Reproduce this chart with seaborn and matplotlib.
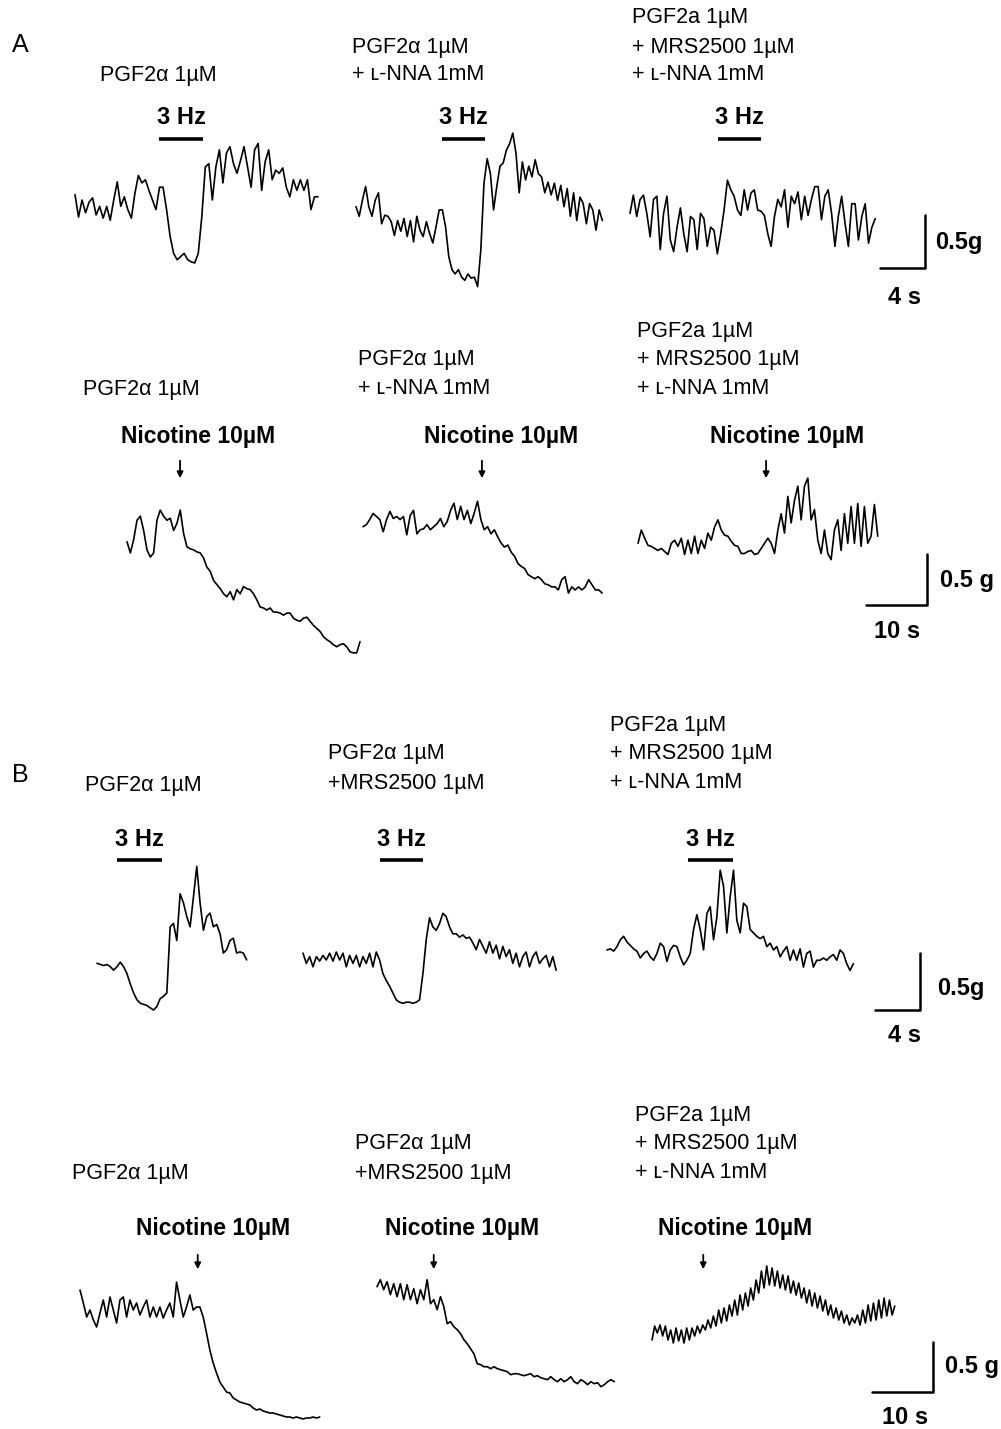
import numpy as np
import matplotlib
matplotlib.use("Agg")
import matplotlib.pyplot as plt
import seaborn as sns

# tension traces in g (relative to each trace's start level), evenly sampled in time
a1_tension = [0.05, -0.16, 0, -0.12, -0.02, 0.02, -0.14, -0.06, -0.17, -0.06, -0.19, 0, 0.17, -0.06, 0.03,
              -0.09, -0.17, 0.06, 0.23, 0.16, 0.19, 0.09, 0, -0.09, 0.12, 0.12, -0.09, -0.34, -0.5, -0.56,
              -0.53, -0.5, -0.56, -0.58, -0.59, -0.5, -0.16, 0.31, 0.34, 0, 0.31, 0.47, 0.16, 0.44, 0.5,
              0.34, 0.25, 0.37, 0.5, 0.31, 0.12, 0.47, 0.53, 0.09, 0.36, 0.47, 0.19, 0.28, 0.25, 0.3,
              0.12, 0.03, 0.19, 0.09, 0.19, 0.09, 0.19, -0.09, 0.03, 0.03]
a2_tension = [0, -0.09, 0.06, 0.19, 0, -0.09, 0.06, 0.13, -0.16, -0.08, -0.09, -0.14, -0.27, -0.13, -0.23,
              -0.11, -0.28, -0.13, -0.33, -0.09, -0.22, -0.28, -0.14, -0.25, -0.34, -0.19, -0.03, -0.03,
              -0.19, -0.47, -0.59, -0.63, -0.59, -0.66, -0.69, -0.63, -0.67, -0.66, -0.75, -0.41, 0.22,
              0.45, 0.31, -0.03, 0.19, 0.38, 0.41, 0.53, 0.59, 0.69, 0.5, 0.13, 0.42, 0.25, 0.38, 0.28,
              0.44, 0.31, 0.28, 0.13, 0.23, 0.11, 0.22, 0.06, 0.2, 0, 0.17, -0.09, 0.13, -0.13, 0.09,
              0.03, -0.16, 0.03, -0.03, -0.22, -0.03, -0.13]
a3_tension = [0, 0.17, -0.03, 0.13, 0.17, 0, -0.22, 0.13, 0.16, -0.34, 0, 0.16, -0.25, -0.36, -0.13, 0.05,
              -0.19, -0.36, -0.03, -0.06, -0.34, 0, -0.05, -0.31, -0.13, -0.16, -0.38, -0.19, 0.03, 0.31,
              0.22, 0.16, 0.03, -0.02, 0.22, 0.03, 0.19, 0.22, 0.03, 0.02, -0.02, -0.19, -0.31, -0.03,
              0.13, 0.06, 0.22, -0.13, 0.16, 0.09, 0.2, -0.06, 0.16, -0.02, 0.13, 0.25, 0.25, -0.06,
              0.16, 0.22, 0, -0.31, -0.03, 0.16, -0.09, -0.31, 0.09, 0.09, -0.25, -0.03, 0.09, -0.28,
              -0.13, -0.05]
a4_tension = [0, -0.11, 0.02, 0.21, 0.25, 0.11, -0.08, -0.15, -0.11, 0.21, 0.31, 0.25, 0.21, 0.23, 0.11,
              0.18, 0.31, 0.08, -0.05, -0.07, -0.08, -0.1, -0.11, -0.16, -0.25, -0.29, -0.38, -0.42,
              -0.46, -0.51, -0.54, -0.49, -0.57, -0.47, -0.51, -0.44, -0.46, -0.47, -0.51, -0.57, -0.64,
              -0.65, -0.67, -0.65, -0.69, -0.69, -0.7, -0.72, -0.7, -0.7, -0.75, -0.77, -0.78, -0.75,
              -0.74, -0.78, -0.82, -0.85, -0.88, -0.93, -0.96, -0.98, -1.01, -1.03, -1.01, -1.0, -1.03,
              -1.08, -1.09, -1.09, -0.98]
a5_tension = [0, 0.02, 0.07, 0.13, 0.1, 0.07, -0.05, 0.07, 0.15, 0.08, 0.1, 0.07, 0.1, -0.08, 0.11, 0.16,
              -0.07, -0.03, -0.02, 0.02, -0.03, 0, 0.03, 0.08, 0, 0.05, 0.16, 0.23, 0.07, 0.2, 0.07, 0.16,
              0.03, 0.13, 0.25, 0.07, -0.03, 0, -0.07, -0.03, -0.1, -0.16, -0.2, -0.18, -0.25, -0.29,
              -0.36, -0.39, -0.41, -0.47, -0.49, -0.51, -0.49, -0.52, -0.56, -0.57, -0.59, -0.59, -0.62,
              -0.52, -0.49, -0.65, -0.59, -0.62, -0.59, -0.62, -0.59, -0.52, -0.57, -0.62, -0.62, -0.65]
a6_tension = [0, 0.13, 0.05, -0.02, -0.03, -0.05, -0.07, -0.05, -0.08, -0.11, 0, 0.03, -0.03, 0.05, -0.11,
              0.03, -0.1, 0.07, -0.1, 0.03, -0.05, 0.1, 0.03, 0.16, 0.23, 0.13, 0.08, 0.07, 0.02, -0.02,
              -0.03, -0.1, -0.1, -0.08, -0.07, -0.11, -0.1, -0.05, 0, 0.05, 0, -0.1, 0.13, 0.29, 0.1,
              0.46, 0.2, 0.42, 0.56, 0.23, 0.56, 0.64, 0.23, 0.33, 0.03, -0.1, 0.13, -0.1, -0.16, 0.13,
              0.23, -0.07, 0.29, 0, 0.36, 0, 0.39, -0.03, 0.36, 0, 0.07, 0.38, 0.07]
b1_tension = [0, -0.01, -0.02, -0.01, -0.03, -0.06, -0.03, 0.01, -0.03, -0.09, -0.18, -0.26, -0.32, -0.35,
              -0.36, -0.37, -0.39, -0.41, -0.38, -0.31, -0.29, -0.26, 0.32, 0.35, 0.2, 0.61, 0.53, 0.41,
              0.32, 0.58, 0.85, 0.53, 0.29, 0.41, 0.44, 0.32, 0.34, 0.26, 0.09, 0.12, 0.2, 0.22, 0.09,
              0.1, 0.09, 0.03]
b2_tension = [0.06, -0.03, 0.03, -0.06, 0.03, -0.01, 0.04, 0, 0.06, -0.01, 0.07, 0, 0.06, -0.06, 0.04,
              -0.03, 0.04, -0.06, 0.03, -0.03, 0.06, -0.06, 0.07, 0, -0.12, -0.18, -0.23, -0.29, -0.35,
              -0.37, -0.38, -0.37, -0.37, -0.38, -0.37, -0.35, -0.12, 0.18, 0.37, 0.29, 0.26, 0.32, 0.41,
              0.38, 0.29, 0.23, 0.23, 0.2, 0.22, 0.19, 0.2, 0.15, 0.09, 0.18, 0.12, 0.06, 0.16, 0.06,
              0.13, 0.01, 0.12, 0.03, 0.09, -0.03, 0.06, -0.06, 0.03, 0.07, -0.06, 0.03, 0.07, -0.03,
              0.01, 0.04, -0.06, 0.03, -0.09]
b3_tension = [0, 0.01, -0.01, 0.03, 0.09, 0.12, 0.07, 0.04, 0.01, -0.01, -0.07, -0.03, -0.01, -0.06, -0.09,
              -0.03, 0.06, 0.03, -0.1, 0, 0.04, 0.03, -0.06, -0.13, -0.09, -0.03, 0.18, 0.31, 0.18, 0,
              0.32, 0.38, 0.09, 0.29, 0.7, 0.56, 0.15, 0.47, 0.7, 0.26, 0.15, 0.41, 0.38, 0.18, 0.15,
              0.12, 0.1, 0.12, 0.03, 0.06, 0, 0.03, -0.06, -0.01, 0.03, -0.09, 0, -0.09, 0.01, -0.15,
              -0.03, -0.01, -0.15, -0.09, -0.09, -0.07, -0.09, -0.06, -0.04, -0.09, 0, -0.03, -0.12,
              -0.18, -0.12]
b4_tension = [0.2, 0.07, -0.07, 0, -0.1, -0.17, -0.03, 0.1, -0.07, 0.13, 0, -0.13, 0.1, 0.13, -0.07, 0.1,
              0, 0.07, -0.05, 0.03, 0.1, -0.07, 0.03, -0.07, 0.03, -0.08, 0, 0.07, -0.07, 0.28, 0.1,
              -0.07, 0.03, 0.15, 0, 0.03, 0.03, -0.07, -0.23, -0.4, -0.53, -0.63, -0.72, -0.77, -0.82,
              -0.83, -0.88, -0.9, -0.92, -0.93, -0.94, -0.95, -0.98, -1.0, -0.99, -1.01, -1.02, -1.03,
              -1.03, -1.04, -1.05, -1.06, -1.07, -1.07, -1.08, -1.07, -1.08, -1.09, -1.08, -1.08, -1.07,
              -1.08, -1.07]
b5_tension = [0, 0.07, -0.03, 0.05, -0.08, 0.03, -0.1, 0.03, -0.13, 0.02, -0.13, -0.02, -0.17, -0.03,
              -0.13, 0.07, -0.17, -0.13, -0.23, -0.1, -0.2, -0.37, -0.35, -0.4, -0.43, -0.47, -0.53, -0.57,
              -0.62, -0.67, -0.77, -0.78, -0.8, -0.8, -0.82, -0.8, -0.82, -0.83, -0.84, -0.85, -0.88,
              -0.87, -0.87, -0.88, -0.89, -0.88, -0.87, -0.9, -0.89, -0.91, -0.92, -0.93, -0.9, -0.93,
              -0.95, -0.92, -0.95, -0.93, -0.9, -0.95, -0.97, -0.93, -0.95, -0.98, -0.95, -0.97, -0.96,
              -1.0, -0.98, -0.95, -0.93, -0.95]
b6_tension = [-0.07, 0.07, 0, 0.08, -0.03, 0.07, -0.07, 0.03, -0.1, 0.05, -0.08, 0.03, -0.1, 0.05, -0.07,
              0.05, -0.03, 0.07, 0, 0.08, 0.03, 0.13, 0.05, 0.17, 0.07, 0.23, 0.1, 0.25, 0.12, 0.28, 0.17,
              0.33, 0.18, 0.38, 0.23, 0.4, 0.27, 0.45, 0.33, 0.53, 0.4, 0.62, 0.45, 0.67, 0.48, 0.65, 0.47,
              0.62, 0.45, 0.58, 0.43, 0.57, 0.4, 0.52, 0.38, 0.5, 0.35, 0.45, 0.3, 0.43, 0.27, 0.4, 0.25,
              0.37, 0.22, 0.33, 0.18, 0.28, 0.15, 0.25, 0.13, 0.22, 0.1, 0.18, 0.08, 0.15, 0.1, 0.18, 0.08,
              0.23, 0.1, 0.28, 0.12, 0.3, 0.13, 0.33, 0.15, 0.35, 0.17, 0.33, 0.18, 0.27]

# recording durations (s)
durations = {"a1": 21.6, "a2": 21.9, "a3": 21.8, "a4": 38.2, "a5": 39.2, "a6": 39.3,
             "b1": 13.3, "b2": 22.5, "b3": 21.9, "b4": 39.3, "b5": 38.9, "b6": 39.8}
# 3 Hz field stimulation (start, end) in s
stim_times = {"a1": (7.5, 11.4), "a2": (7.6, 11.5), "a3": (7.8, 11.6),
              "b1": (1.8, 5.8), "b2": (6.8, 10.7), "b3": (7.2, 11.2)}
# nicotine addition time in s
nicotine_times = {"a4": 8.7, "a5": 19.5, "a6": 21.0, "b4": 19.3, "b5": 9.3, "b6": 8.4}

label_pgf = "PGF2\u03b1 1\u00b5M"
label_pgfa = "PGF2a 1\u00b5M"
label_lnna = "+ \u029f-NNA 1mM"
label_mrs = "+ MRS2500 1\u00b5M"
label_mrs2 = "+MRS2500 1\u00b5M"
stim_label = "3 Hz"
drug_label = "Nicotine 10\u00b5M"

W, H = 1001, 1429
sns.set_style("white")
plt.rcParams["font.family"] = ["Liberation Sans", "DejaVu Sans"]
plt.rcParams["text.color"] = "black"

fig = plt.figure(figsize=(W / 100, H / 100), dpi=100)

# layout in pixels: x start, baseline y, px per s, px per g
layout = {"a1": (75, 200, 11.25, 106.7), "a2": (356, 206.7, 11.25, 106.7), "a3": (630, 213.3, 11.25, 106.7),
          "a4": (127, 541.7, 6.1, 102), "a5": (363, 526.7, 6.1, 102), "a6": (638, 543.3, 6.1, 102),
          "b1": (97, 963.3, 11.25, 114), "b2": (303, 960, 11.25, 114), "b3": (607, 950, 11.25, 114),
          "b4": (80, 1310, 6.1, 100), "b5": (377, 1286.7, 6.1, 100), "b6": (652, 1333, 6.1, 100)}
traces = {"a1": a1_tension, "a2": a2_tension, "a3": a3_tension, "a4": a4_tension, "a5": a5_tension,
          "a6": a6_tension, "b1": b1_tension, "b2": b2_tension, "b3": b3_tension, "b4": b4_tension,
          "b5": b5_tension, "b6": b6_tension}


def to_data(ax, xp, yp):
    return ax.transData.inverted().transform((xp, H - yp))


axes = {}
for key, vals in traces.items():
    vals = np.asarray(vals, dtype=float)
    dur = durations[key]
    x0, y0, pps, ppg = layout[key]
    t = np.linspace(0, dur, len(vals))
    lo, hi = -2.0, 2.0
    left = x0 / W
    width = dur * pps / W
    top_px = y0 - hi * ppg
    height = (hi - lo) * ppg / H
    bottom = 1 - top_px / H - height
    ax = fig.add_axes([left, bottom, width, height])
    sns.lineplot(x=t, y=vals, ax=ax, color="black", lw=1.2, estimator=None, clip_on=False)
    ax.set_xlim(0, dur)
    ax.set_ylim(lo, hi)
    ax.axis("off")
    axes[key] = ax

# 3 Hz stimulation bars
for key, (s0, s1) in stim_times.items():
    ax = axes[key]
    bar_px = 139 if key.startswith("a") else 860
    yb = to_data(ax, 0, bar_px)[1]
    ax.plot([s0, s1], [yb, yb], color="black", lw=2.6, solid_capstyle="butt", clip_on=False)
    yt = to_data(ax, 0, bar_px - 21)[1]
    ax.text((s0 + s1) / 2, yt, stim_label, ha="center", va="center", fontsize=17,
            fontweight="bold", clip_on=False)

# nicotine arrows
arrow_px = {"a": (458, 481), "b": (1252, 1272)}
for key, tn in nicotine_times.items():
    ax = axes[key]
    tail, tip = arrow_px[key[0]]
    yt = to_data(ax, 0, tail)[1]
    yh = to_data(ax, 0, tip)[1]
    ax.annotate("", xy=(tn, yh), xytext=(tn, yt),
                arrowprops=dict(arrowstyle="-|>", color="black", lw=1.3, mutation_scale=9),
                annotation_clip=False)

drug_text_px = [(198, 437), (501, 437), (787, 437), (213, 1228), (462, 1228), (735, 1228)]
for xp, yp in drug_text_px:
    fig.text(xp / W, 1 - yp / H, drug_label, ha="center", va="center", fontsize=16.5, fontweight="bold")

# scale bars: corner pixel, seconds, g
scale_bars = [("a3", 925, 268, 4, 0.5, "0.5g", (935, 243), "4 s", (905, 297)),
              ("a6", 927, 605, 10, 0.5, "0.5 g", (940, 580), "10 s", (897, 632)),
              ("b3", 920, 1010, 4, 0.5, "0.5g", (937, 988), "4 s", (905, 1035)),
              ("b6", 933, 1392, 10, 0.5, "0.5 g", (945, 1366), "10 s", (905, 1418))]
for key, cx, cy, sec, g, glab, gpos, tlab, tpos in scale_bars:
    ax = axes[key]
    xc, yc = to_data(ax, cx, cy)
    ax.plot([xc - sec, xc, xc], [yc, yc, yc + g], color="black", lw=1.8, clip_on=False)
    fig.text(gpos[0] / W, 1 - gpos[1] / H, glab, ha="left", va="center", fontsize=17, fontweight="bold")
    fig.text(tpos[0] / W, 1 - tpos[1] / H, tlab, ha="center", va="center", fontsize=17, fontweight="bold")

# condition labels
labels = [(100, 75, label_pgf),
          (352, 47, label_pgf), (352, 75, label_lnna),
          (632, 18, label_pgfa), (632, 47, label_mrs), (632, 75, label_lnna),
          (83, 389, label_pgf),
          (358, 360, label_pgf), (358, 389, label_lnna),
          (637, 331, label_pgfa), (637, 360, label_mrs), (637, 389, label_lnna),
          (85, 785, label_pgf),
          (328, 754, label_pgf), (328, 783, label_mrs2),
          (610, 725, label_pgfa), (610, 754, label_mrs), (610, 783, label_lnna),
          (72, 1173, label_pgf),
          (355, 1144, label_pgf), (355, 1173, label_mrs2),
          (635, 1115, label_pgfa), (635, 1144, label_mrs), (635, 1173, label_lnna)]
for xp, yp, txt in labels:
    fig.text(xp / W, 1 - yp / H, txt, ha="left", va="center", fontsize=15.5)

fig.text(12 / W, 1 - 45 / H, "A", ha="left", va="center", fontsize=18)
fig.text(12 / W, 1 - 775 / H, "B", ha="left", va="center", fontsize=18)

fig.savefig("out.png", dpi=100)
